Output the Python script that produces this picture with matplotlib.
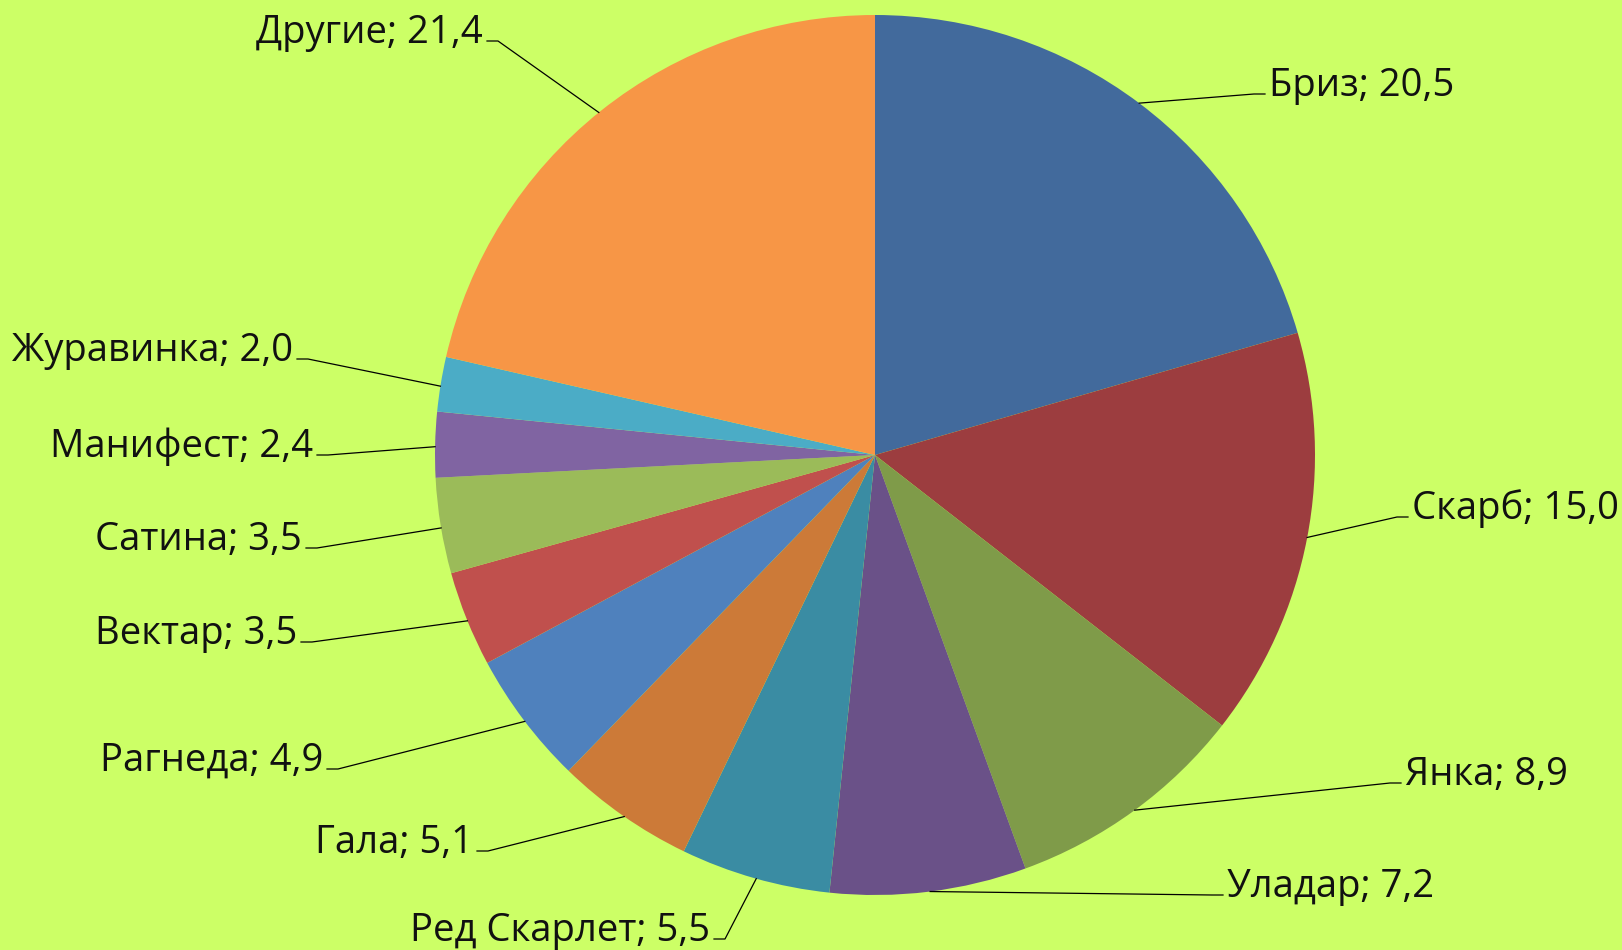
import matplotlib.pyplot as plt
import numpy as np

plt.rcParams['font.family'] = ['Open Sans', 'DejaVu Sans']

varieties = ['Бриз', 'Скарб', 'Янка', 'Уладар', 'Ред Скарлет', 'Гала', 'Рагнеда',
             'Вектар', 'Сатина', 'Манифест', 'Журавинка', 'Другие']
shares = [20.5, 15.0, 8.9, 7.2, 5.5, 5.1, 4.9, 3.5, 3.5, 2.4, 2.0, 21.4]
colors = ['#426a9c', '#9c3d3f', '#7f9b49', '#6a5188', '#3a8ca3', '#cc7a38',
          '#4f81bd', '#c0504d', '#9bbb59', '#8064a2', '#4bacc6', '#f79646']

# label knee points (pixels from top-left) and side of text
label_knees = [(1254, 94), (1397, 517), (1390, 783), (1212, 895), (725, 939),
               (488, 851), (338, 769), (312, 642), (317, 548), (328, 455),
               (308, 359), (498, 41)]
label_side = ['r', 'r', 'r', 'r', 'l', 'l', 'l', 'l', 'l', 'l', 'l', 'l']

W, H = 1622, 950
cx, cy, r = 875, H - 455, 440

fig = plt.figure(figsize=(W / 100, H / 100), dpi=100)
fig.patch.set_facecolor('#ccff66')
ax = fig.add_axes([0, 0, 1, 1])
ax.set_facecolor('#ccff66')

ax.pie(shares, colors=colors, startangle=90, counterclock=False,
       center=(cx, cy), radius=r, wedgeprops=dict(linewidth=0))

cum = np.cumsum(shares)
mids = np.deg2rad(90 - 360 * (cum - np.array(shares) / 2) / 100)
for name, val, ang, (kx, ky), side in zip(varieties, shares, mids, label_knees, label_side):
    ex, ey = cx + r * np.cos(ang), cy + r * np.sin(ang)
    ky = H - ky
    sign = 1 if side == 'r' else -1
    ax.plot([ex, kx, kx + sign * 11], [ey, ky, ky], color='black', lw=0.9)
    txt = f'{name}; {val:.1f}'.replace('.', ',')
    ax.text(kx + sign * 15, ky + 8, txt, fontsize=27.5, color='#111111',
            ha='left' if side == 'r' else 'right', va='center')

ax.set_xlim(0, W)
ax.set_ylim(0, H)
ax.set_aspect('auto')
ax.axis('off')
fig.savefig('out.png', dpi=100, facecolor=fig.get_facecolor())
